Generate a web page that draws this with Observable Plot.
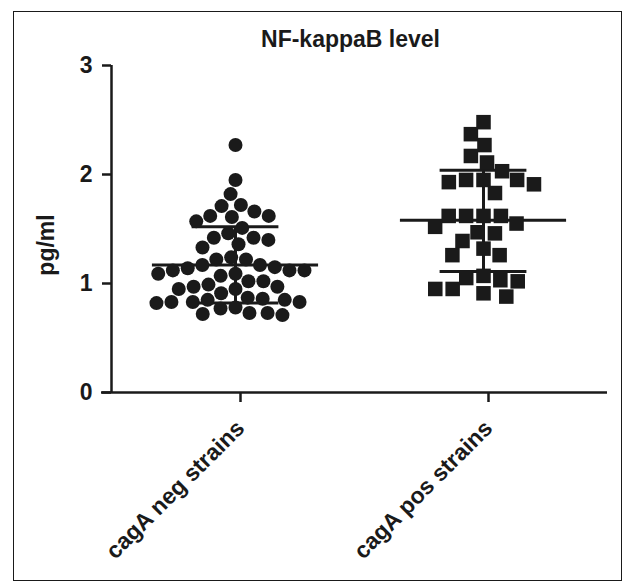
<!DOCTYPE html>
<html>
<head>
<meta charset="utf-8">
<script src="https://cdn.jsdelivr.net/npm/d3@7"></script>
<script src="https://cdn.jsdelivr.net/npm/@observablehq/plot@0.6"></script>
<style>
  html, body { margin: 0; padding: 0; background: #fff; }
  #wrap { position: relative; width: 624px; height: 581px; overflow: hidden; background: #fff; }
  #border { position: absolute; left: 13px; top: 11px; width: 609px; height: 570px; border: 1.5px solid #1a1a1a; box-sizing: border-box; }
  #title { position: absolute; left: 200px; width: 301px; top: 27px; text-align: center;
           font-family: "Liberation Sans", Arial, sans-serif; font-weight: bold; font-size: 23px; line-height: 24px; color: #1a1a1a; }
  #chart { position: absolute; left: 0; top: 0; }
</style>
</head>
<body>
<div id="wrap">
  <div id="border"></div>
  <div id="chart"></div>
  <div id="title"></div>
</div>
<script>
const titleText = "NF-kappaB level";
const yLabel = "pg/ml";
const categories = ["cagA neg strains", "cagA pos strains"];
const yTicks = [0, 1, 2, 3];

const negValues = [2.27, 1.95, 1.82, 1.72, 1.71, 1.66, 1.62, 1.62, 1.61, 1.57, 1.51, 1.46, 1.42, 1.42, 1.40,
  1.36, 1.33, 1.24, 1.22, 1.22, 1.17, 1.17, 1.15, 1.14, 1.12, 1.12, 1.12, 1.09, 1.09, 1.07, 1.02, 1.02,
  0.99, 0.97, 0.97, 0.95, 0.95, 0.91, 0.87, 0.86, 0.85, 0.85, 0.83, 0.83, 0.83, 0.82, 0.78, 0.77, 0.73,
  0.73, 0.72, 0.71];
const posValues = [2.48, 2.37, 2.27, 2.17, 2.11, 2.03, 1.95, 1.95, 1.95, 1.93, 1.91, 1.83, 1.62, 1.62, 1.62,
  1.62, 1.55, 1.52, 1.47, 1.46, 1.39, 1.32, 1.26, 1.26, 1.07, 1.05, 1.03, 1.02, 0.95, 0.95, 0.91, 0.88];

const means = [1.17, 1.58];
const sdUpper = [1.52, 2.04];
const sdLower = [0.82, 1.11];

const negPoints = negValues.map(v => ({group: categories[0], value: v}));
const posPoints = posValues.map(v => ({group: categories[1], value: v}));
const stats = categories.map((c, i) => ({group: c, mean: means[i], hi: sdUpper[i], lo: sdLower[i]}));

const ink = "#1a1a1a";

const chart = Plot.plot({
  width: 624,
  height: 581,
  marginLeft: 111,
  marginRight: 17,
  marginTop: 65,
  marginBottom: 189,
  fx: {domain: categories, padding: 0, label: null},
  x: {domain: [-1, 1], axis: null},
  y: {domain: [0, 3], axis: null},
  style: {fontFamily: "'Liberation Sans', Arial, sans-serif", fontSize: "23px", fontWeight: "bold", color: ink, background: "transparent"},
  marks: [
    Plot.axisY(yTicks, {tickSize: 9, tickPadding: 10, strokeWidth: 2.5, label: null, tickFormat: d => String(d)}),
    Plot.axisFx({anchor: "bottom", tickRotate: -45, tickSize: 10, tickPadding: 22, dx: 5, strokeWidth: 2.5, label: null}),
    Plot.ruleX([categories[0]], {fx: d => d, x: -1, y1: 0, y2: 3, stroke: ink, strokeWidth: 2.5}),
    Plot.ruleY([categories[0]], {fx: d => d, y: 0, stroke: ink, strokeWidth: 2.5, insetLeft: -10}),
    Plot.ruleY([categories[1]], {fx: d => d, y: 0, stroke: ink, strokeWidth: 2.5}),
    Plot.text([categories[0]], {fx: d => d, text: () => yLabel, frameAnchor: "left", dx: -65, dy: 16, rotate: -90, textAnchor: "middle", fill: ink}),
    Plot.ruleY(stats, {fx: "group", y: "mean", x1: -0.67, x2: 0.67, stroke: ink, strokeWidth: 3}),
    Plot.ruleY(stats, {fx: "group", y: "hi", x1: -0.35, x2: 0.35, stroke: ink, strokeWidth: 3}),
    Plot.ruleY(stats, {fx: "group", y: "lo", x1: -0.35, x2: 0.35, stroke: ink, strokeWidth: 3}),
    Plot.ruleX(stats, {fx: "group", x: 0, y1: "lo", y2: "hi", stroke: ink, strokeWidth: 3}),
    Plot.dot(negPoints, Plot.dodgeX("middle", {fx: "group", y: "value", r: 7, fill: ink, stroke: "none", padding: 1})),
    Plot.dot(posPoints, Plot.dodgeX("middle", {fx: "group", y: "value", r: 8.2, symbol: "square", fill: ink, stroke: "none", padding: 1}))
  ]
});

document.getElementById("chart").appendChild(chart);
document.getElementById("title").textContent = titleText;
</script>
</body>
</html>
